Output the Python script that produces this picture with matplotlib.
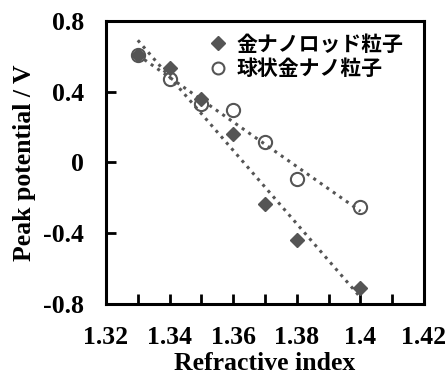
import numpy as np
import matplotlib
matplotlib.use('Agg')
import matplotlib.pyplot as plt
from matplotlib.ticker import MultipleLocator, FixedLocator

# refractive index of the medium
ri = [1.33, 1.34, 1.35, 1.36, 1.37, 1.38, 1.40]
# peak potential (V)
rod_peak = [0.607, 0.532, 0.357, 0.159, -0.235, -0.438, -0.711]
sphere_peak = [0.610, 0.470, 0.331, 0.297, 0.118, -0.095, -0.253]

rod_label = '金ナノロッド粒子'
sphere_label = '球状金ナノ粒子'
x_ticks = [1.32, 1.34, 1.36, 1.38, 1.40, 1.42]
x_ticklabels = ['1.32', '1.34', '1.36', '1.38', '1.4', '1.42']
y_ticks = [-0.8, -0.4, 0, 0.4, 0.8]
y_ticklabels = ['-0.8', '-0.4', '0', '0.4', '0.8']

gray = '#555555'
serif = 'Liberation Serif'

fig = plt.figure(figsize=(4.46, 3.83), dpi=100)
ax = fig.add_axes([0.2377, 0.2063, 0.7130, 0.7389])

x = np.array(ri)
for yvals in (rod_peak, sphere_peak):
    z = np.polyfit(x, yvals, 1)
    xs = np.array([x.min(), x.max()])
    ax.plot(xs, np.polyval(z, xs), linestyle=(0, (1, 1.6)), color=gray,
            linewidth=2.2, zorder=1)

ax.plot(ri, rod_peak, linestyle='none', marker='D', markersize=7.5,
        markerfacecolor=gray, markeredgecolor=gray, zorder=3, label=rod_label)
ax.plot(ri, sphere_peak, linestyle='none', marker='o', markersize=9.5,
        markerfacecolor='none', markeredgecolor=gray, markeredgewidth=1.5,
        zorder=2, label=sphere_label)

ax.set_xlim(1.32, 1.42)
ax.set_ylim(-0.8, 0.8)
ax.xaxis.set_major_locator(FixedLocator(x_ticks))
ax.xaxis.set_minor_locator(MultipleLocator(0.01))
ax.set_xticklabels(x_ticklabels)
ax.set_yticks(y_ticks)
ax.set_yticklabels(y_ticklabels)

ax.tick_params(which='both', direction='in', length=7, width=2, pad=16)
for lab in ax.get_xticklabels() + ax.get_yticklabels():
    lab.set_fontfamily(serif)
    lab.set_fontweight('bold')
    lab.set_fontsize(18.5)

for sp in ax.spines.values():
    sp.set_linewidth(2.2)

ax.set_xlabel('Refractive index', fontfamily=serif, fontweight='bold',
              fontsize=18.5, labelpad=2)
ax.set_ylabel('Peak potential / V', fontfamily=serif, fontweight='bold',
              fontsize=18.5, labelpad=5)

leg = ax.legend(loc='upper left', bbox_to_anchor=(0.325, 0.955), frameon=False,
                prop={'family': ['Noto Sans CJK JP', 'DejaVu Sans'],
                      'weight': 'bold', 'size': 15},
                handlelength=0.8, handletextpad=0.5, labelspacing=0.15,
                borderaxespad=0, borderpad=0, markerscale=0.9)

fig.savefig('out.png', dpi=100)
